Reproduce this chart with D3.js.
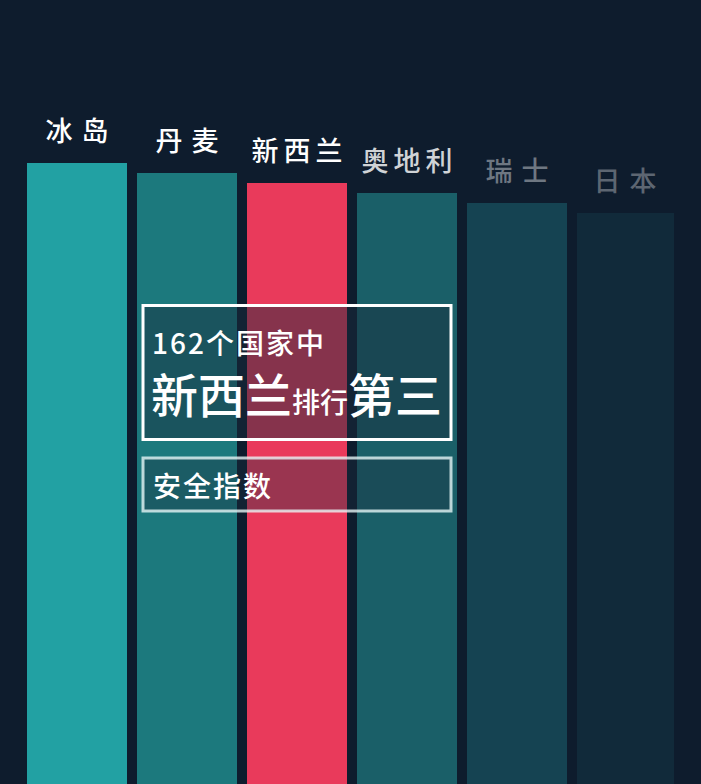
<!DOCTYPE html>
<html><head><meta charset="utf-8">
<script src="https://cdn.jsdelivr.net/npm/d3@7/dist/d3.min.js"></script>
<style>
html,body{margin:0;padding:0;background:#0e1c2d;overflow:hidden;}
svg{display:block;}
text{font-family:"Noto Sans CJK SC","Noto Sans",sans-serif;font-weight:500;}
</style></head>
<body>
<svg id="chart" width="701" height="784"></svg>
<script>
// Data
const countries = ["冰岛", "丹麦", "新西兰", "奥地利", "瑞士", "日本"];
const values = [62.1, 61.1, 60.1, 59.1, 58.1, 57.1];
const barColors = ["#22a1a3", "#1c797d", "#e93a5b", "#1a5f68", "#154352", "#112a3a"];
const labelColors = ["#ffffff", "#ffffff", "#ffffff", "#d0d3d6", "#6e7782", "#5d6672"];
const headline1 = "162个国家中";
const headlineParts = [["新西兰", 47], ["排行", 28], ["第三", 47]];
const subtitle = "安全指数";

const W = 701, H = 784;
const svg = d3.select("#chart");
svg.append("rect").attr("width", W).attr("height", H).attr("fill", "#0e1c2d");

const x = d3.scaleBand().domain(countries).range([22, 682]).paddingInner(10/110).paddingOuter(5/110);
const y = d3.scaleLinear().domain([0, 78.4]).range([H, 0]);

const data = countries.map((c, i) => ({c, v: values[i], i}));

const clip = svg.append("clipPath").attr("id", "clipArea");
clip.append("rect").attr("x", 0).attr("y", 0).attr("width", 674).attr("height", H);

svg.append("g").attr("clip-path", "url(#clipArea)")
  .selectAll("rect.bar").data(data).join("rect")
  .attr("class", "bar")
  .attr("x", d => x(d.c))
  .attr("y", d => y(d.v))
  .attr("width", x.bandwidth())
  .attr("height", d => H - y(d.v))
  .attr("fill", d => barColors[d.i]);

svg.selectAll("text.lab").data(data).join("text")
  .attr("class", "lab")
  .attr("x", d => x(d.c) + x.bandwidth() / 2 - (d.i === 5 ? 2 : 0))
  .attr("y", d => y(d.v) - 22)
  .attr("text-anchor", "middle")
  .attr("font-size", 27)
  .attr("letter-spacing", d => d.c.length === 2 ? 9 : 5)
  .attr("dx", d => (d.c.length === 2 ? 9 : 5) / 2)
  .attr("fill", d => labelColors[d.i])
  .text(d => d.c);

// Overlay boxes
const g = svg.append("g");
g.append("rect").attr("x", 143).attr("y", 305.5).attr("width", 308).attr("height", 134)
  .attr("fill", "rgba(26,45,62,0.475)").attr("stroke", "#ffffff").attr("stroke-width", 3);
g.append("text").attr("x", 152).attr("y", 354).attr("font-size", 28).attr("fill", "#ffffff")
  .attr("letter-spacing", 2).text(headline1);
const t = g.append("text").attr("x", 151).attr("y", 413).attr("fill", "#ffffff");
headlineParts.forEach(p => t.append("tspan").attr("font-size", p[1]).text(p[0]));

g.append("rect").attr("x", 143).attr("y", 458).attr("width", 308).attr("height", 53)
  .attr("fill", "rgba(26,45,62,0.38)").attr("stroke", "rgba(235,250,250,0.78)").attr("stroke-width", 3);
g.append("text").attr("x", 153).attr("y", 497).attr("font-size", 28).attr("fill", "#ffffff")
  .attr("letter-spacing", 2).text(subtitle);
</script>
</body></html>
